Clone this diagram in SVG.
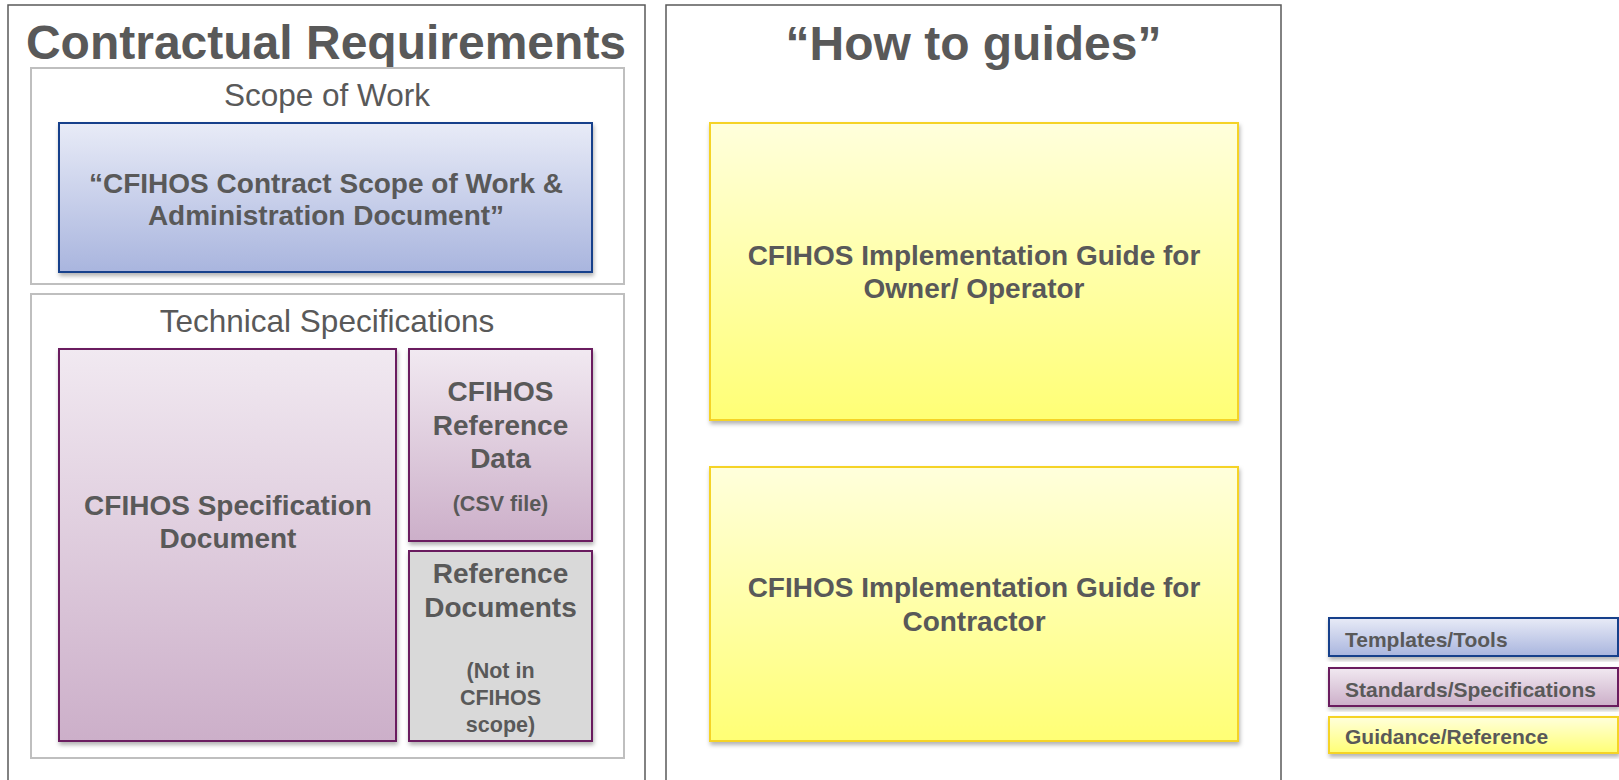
<svg xmlns="http://www.w3.org/2000/svg" width="1619" height="780" viewBox="0 0 1619 780">
<defs>
<linearGradient id="gBlue" x1="0" y1="0" x2="0" y2="1"><stop offset="0" stop-color="#E8EBF7"/><stop offset="1" stop-color="#A9B5DE"/></linearGradient>
<linearGradient id="gPurple" x1="0" y1="0" x2="0" y2="1"><stop offset="0" stop-color="#F1E9F1"/><stop offset="1" stop-color="#CCAFC9"/></linearGradient>
<linearGradient id="gYellow" x1="0" y1="0" x2="0" y2="1"><stop offset="0" stop-color="#FFFFDC"/><stop offset="1" stop-color="#FFFF75"/></linearGradient>
<filter id="sh" x="-5%" y="-5%" width="115%" height="120%"><feDropShadow dx="1" dy="3" stdDeviation="2" flood-color="#000" flood-opacity="0.3"/></filter>
<style>
.panel{fill:#fff;stroke:#595959;stroke-width:1.5}
.sub{fill:#fff;stroke:#BFBFBF;stroke-width:2}
.blue{fill:url(#gBlue);stroke:#17408B;stroke-width:2;filter:url(#sh)}
.purple{fill:url(#gPurple);stroke:#6B1F5E;stroke-width:2;filter:url(#sh)}
.gray{fill:#D9D9D9;stroke:#6B1F5E;stroke-width:2;filter:url(#sh)}
.yellow{fill:url(#gYellow);stroke:#F5D327;stroke-width:2;filter:url(#sh)}
text{font-family:"Liberation Sans",Arial,sans-serif;fill:#595959}
.title{font-size:48px;font-weight:bold;text-anchor:middle}
.subt{font-size:31.5px;text-anchor:middle}
.b{font-size:28px;font-weight:bold;text-anchor:middle}
.s{font-size:21.5px;font-weight:bold;text-anchor:middle}
.lg{font-size:21px;font-weight:bold}
</style>
</defs>
<g id="contractual-requirements">
<rect class="panel" x="8" y="5" width="637" height="790"/>
<text class="title" x="326" y="59">Contractual Requirements</text>
</g>
<g id="scope-of-work">
<rect class="sub" x="31" y="68" width="593" height="216"/>
<text class="subt" x="327" y="106">Scope of Work</text>
</g>
<g id="contract-scope-doc">
<rect class="blue" x="59" y="123" width="533" height="149"/>
<text class="b" x="326" y="193">“CFIHOS Contract Scope of Work &amp;</text>
<text class="b" x="326" y="225">Administration Document”</text>
</g>
<g id="technical-specifications">
<rect class="sub" x="31" y="294" width="593" height="464"/>
<text class="subt" x="327" y="332">Technical Specifications</text>
</g>
<g id="specification-document">
<rect class="purple" x="59" y="349" width="337" height="392"/>
<text class="b" x="228" y="515">CFIHOS Specification</text>
<text class="b" x="228" y="548">Document</text>
</g>
<g id="reference-data">
<rect class="purple" x="409" y="349" width="183" height="192"/>
<text class="b" x="500.5" y="401">CFIHOS</text>
<text class="b" x="500.5" y="435">Reference</text>
<text class="b" x="500.5" y="468">Data</text>
<text class="s" x="500.5" y="511">(CSV file)</text>
</g>
<g id="reference-documents">
<rect class="gray" x="409" y="551" width="183" height="190"/>
<text class="b" x="500.5" y="583">Reference</text>
<text class="b" x="500.5" y="617">Documents</text>
<text class="s" x="500.5" y="678">(Not in</text>
<text class="s" x="500.5" y="705">CFIHOS</text>
<text class="s" x="500.5" y="732">scope)</text>
</g>
<g id="how-to-guides">
<rect class="panel" x="666" y="5" width="615" height="790"/>
<text class="title" x="973.5" y="60">“How to guides”</text>
</g>
<g id="guide-owner-operator">
<rect class="yellow" x="710" y="123" width="528" height="297"/>
<text class="b" x="974" y="265">CFIHOS Implementation Guide for</text>
<text class="b" x="974" y="298">Owner/ Operator</text>
</g>
<g id="guide-contractor">
<rect class="yellow" x="710" y="467" width="528" height="274"/>
<text class="b" x="974" y="597">CFIHOS Implementation Guide for</text>
<text class="b" x="974" y="631">Contractor</text>
</g>
<g id="legend-templates">
<rect class="blue" x="1329" y="618" width="289" height="38"/>
<text class="lg" x="1345" y="647">Templates/Tools</text>
</g>
<g id="legend-standards">
<rect class="purple" x="1329" y="668" width="289" height="38"/>
<text class="lg" x="1345" y="697">Standards/Specifications</text>
</g>
<g id="legend-guidance">
<rect class="yellow" x="1329" y="717" width="289" height="36"/>
<text class="lg" x="1345" y="744">Guidance/Reference</text>
</g>
<g id="connectors"></g>
</svg>
